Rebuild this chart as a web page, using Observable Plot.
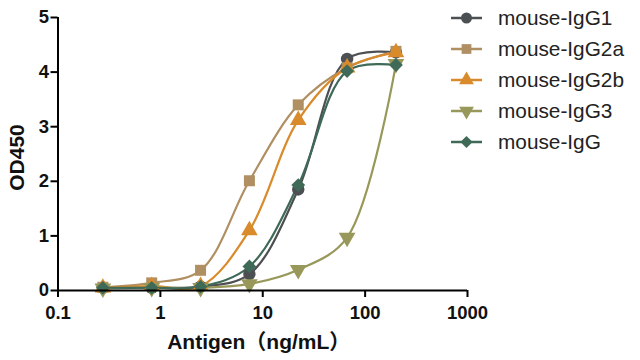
<!DOCTYPE html>
<html>
<head>
<meta charset="utf-8">
<script src="https://cdn.jsdelivr.net/npm/d3@7"></script>
<script src="https://cdn.jsdelivr.net/npm/@observablehq/plot@0.6"></script>
<style>
  html, body { margin: 0; padding: 0; background: #fff; }
  #wrap { position: relative; width: 640px; height: 360px; }
  #legend { position: absolute; left: 440px; top: 4px; }
  svg { font-family: "Liberation Sans", Arial, "Noto Sans CJK SC", sans-serif; }
</style>
</head>
<body>
<div id="wrap"><div id="chart"></div><div id="legend"></div></div>
<script>
// Antigen concentrations (ng/mL), 3-fold dilutions
const concentrations = [200, 66.67, 22.22, 7.407, 2.469, 0.823, 0.2743];
const seriesNames = ["mouse-IgG1", "mouse-IgG2a", "mouse-IgG2b", "mouse-IgG3", "mouse-IgG"];
const igg1  = [4.36, 4.24, 1.85, 0.30, 0.07, 0.05, 0.05];
const igg2a = [4.38, 4.08, 3.40, 2.01, 0.37, 0.14, 0.06];
const igg2b = [4.36, 4.08, 3.12, 1.10, 0.08, 0.08, 0.05];
const igg3  = [4.15, 0.97, 0.38, 0.12, 0.05, 0.05, 0.04];
const igg   = [4.13, 4.02, 1.93, 0.44, 0.07, 0.05, 0.05];
const seriesColors = ["#4d5053", "#b08f62", "#d98b2c", "#98985a", "#3f6a57"];
const xTicks = [0.1, 1, 10, 100, 1000];
const yTicks = [0, 1, 2, 3, 4, 5];

const triangleDown = {
  draw(context, size) {
    const y = -Math.sqrt(size / (Math.sqrt(3) * 3));
    context.moveTo(0, -y * 2);
    context.lineTo(-Math.sqrt(3) * y, y);
    context.lineTo(Math.sqrt(3) * y, y);
    context.closePath();
  }
};
const symbols = ["circle", "square", "triangle", triangleDown, "diamond2"];

const allValues = [igg1, igg2a, igg2b, igg3, igg];
const data = [];
seriesNames.forEach((name, i) => {
  concentrations.forEach((c, j) => data.push({series: name, conc: c, od: allValues[i][j]}));
});
data.sort((a, b) => a.conc - b.conc);

const font = '"Liberation Sans", Arial, "Noto Sans CJK SC", sans-serif';

const chart = Plot.plot({
  width: 640,
  height: 360,
  marginLeft: 57.5,
  marginRight: 173,
  marginTop: 17,
  marginBottom: 70,
  style: {fontFamily: font, background: "#fff"},
  x: {type: "log", domain: [0.1, 1000], axis: null},
  y: {domain: [0, 5], axis: null},
  color: {domain: seriesNames, range: seriesColors},
  symbol: {domain: seriesNames, range: symbols},
  marks: [
    Plot.line(data, {x: "conc", y: "od", z: "series", stroke: "series", strokeWidth: 2.2, curve: "catmull-rom"}),
    Plot.dot(data, {x: "conc", y: "od", fill: "series", symbol: "series", r: 6.2, stroke: "none"}),
    Plot.ruleY([0], {stroke: "#000", strokeWidth: 2}),
    Plot.ruleX([0.1], {stroke: "#000", strokeWidth: 2}),
    Plot.axisX({ticks: xTicks, tickFormat: d => String(d), tickSize: 7, tickPadding: 8, strokeWidth: 2, stroke: "#000",
      fontSize: 18.5, fontWeight: "bold", fill: "#111", label: null}),
    Plot.axisY({ticks: yTicks, tickFormat: d => String(d), tickSize: 7, tickPadding: 2, strokeWidth: 2, stroke: "#000",
      fontSize: 18.5, fontWeight: "bold", fill: "#111", label: null}),
    Plot.text(["Antigen（ng/mL）"], {frameAnchor: "bottom", dy: 58, fontSize: 21, fontWeight: "bold", fill: "#111", dx: -4}),
    Plot.text(["OD450"], {frameAnchor: "left", textAnchor: "middle", dx: -41, rotate: -90, fontSize: 21, fontWeight: "bold", fill: "#111", dy: 3.5})
  ]
});
document.getElementById("chart").appendChild(chart);

// Legend
const rowH = 31;
const lsvg = d3.select("#legend").append("svg")
  .attr("width", 200).attr("height", 160)
  .style("font-family", font);
seriesNames.forEach((name, i) => {
  const g = lsvg.append("g").attr("transform", `translate(0, ${14 + i * rowH})`);
  g.append("line").attr("x1", 11).attr("x2", 42).attr("y1", 0).attr("y2", 0)
    .attr("stroke", seriesColors[i]).attr("stroke-width", 2.5);
  const sym = typeof symbols[i] === "string"
    ? {circle: d3.symbolCircle, square: d3.symbolSquare, triangle: d3.symbolTriangle, diamond2: d3.symbolDiamond2}[symbols[i]]
    : symbols[i];
  g.append("path").attr("d", d3.symbol(sym, Math.PI * 5.5 * 5.5)()).attr("transform", "translate(26.5,0)")
    .attr("fill", seriesColors[i]);
  g.append("text").attr("x", 58).attr("y", 0).attr("dy", "0.35em")
    .attr("font-size", 20.8).attr("fill", "#222").text(name);
});
</script>
</body>
</html>
